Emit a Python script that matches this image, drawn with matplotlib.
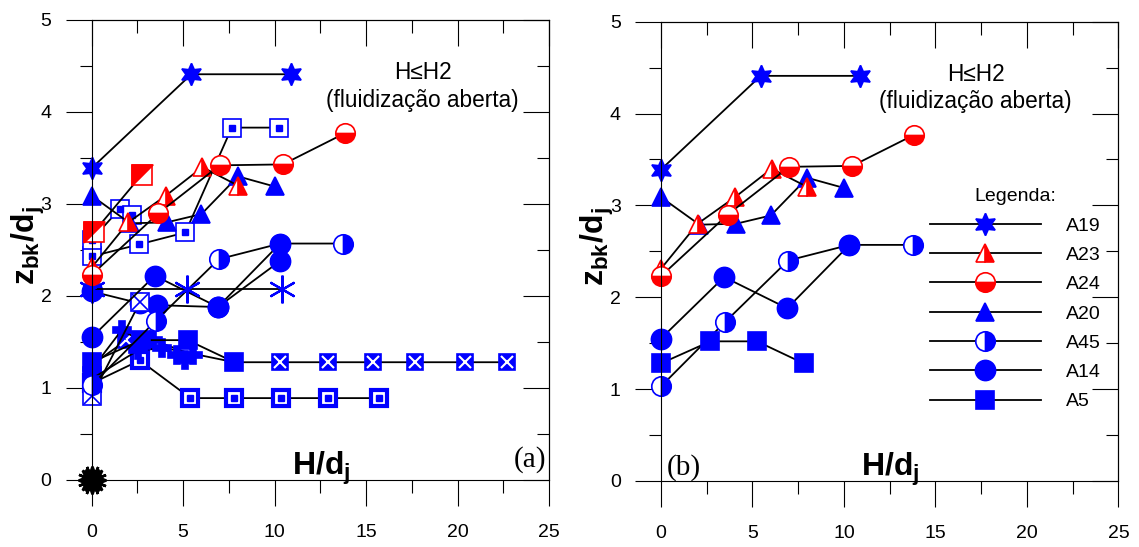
import matplotlib
matplotlib.use("Agg")
import matplotlib.pyplot as plt
from matplotlib.lines import Line2D
from matplotlib.path import Path
from matplotlib.ticker import MultipleLocator

plt.rcParams["font.family"] = ["Liberation Sans", "DejaVu Sans"]
plt.rcParams["mathtext.fontset"] = "custom"
plt.rcParams["mathtext.rm"] = "Liberation Sans"
plt.rcParams["mathtext.bf"] = "Liberation Sans:bold"
plt.rcParams["mathtext.it"] = "Liberation Sans:italic"

BLUE = "#0000ff"
RED = "#ff0000"

# --- series shared by both panels (H/dj, zbk/dj) ---
a19_x = [0.0, 5.45, 10.9]
a19_y = [3.39, 4.41, 4.41]
a20_x = [0.0, 2.1, 4.1, 6.0, 8.0, 10.0]
a20_y = [3.09, 2.79, 2.80, 2.89, 3.30, 3.19]
a23_x = [0.0, 2.0, 4.05, 6.05, 8.0]
a23_y = [2.31, 2.80, 3.09, 3.40, 3.20]
a24_x = [0.0, 3.65, 7.0, 10.45, 13.85]
a24_y = [2.23, 2.90, 3.42, 3.43, 3.77]
a45_x = [0.0, 3.5, 6.95, 10.3, 13.75]
a45_y = [1.03, 1.73, 2.40, 2.57, 2.57]
a14_x = [0.0, 3.45, 6.9, 10.3]
a14_y = [1.55, 2.22, 1.88, 2.57]
a5_x = [0.0, 2.7, 5.25, 7.8]
a5_y = [1.28, 1.52, 1.52, 1.28]

# --- extra tests shown only in panel (a) ---
s1_x = [0.1, 2.75]
s1_y = [2.69, 3.32]
s2_x = [0.0, 2.58, 5.12, 7.66, 10.26]
s2_y = [2.43, 2.56, 2.69, 3.83, 3.83]
s3_x = [0.0, 1.55, 2.2]
s3_y = [2.61, 2.95, 2.88]
s4_x = [0.0, 5.2, 10.4]
s4_y = [2.08, 2.08, 2.08]
s5_x = [0.0, 2.63]
s5_y = [0.91, 1.93]
s6_x = [0.0, 2.63, 3.55, 6.9, 10.3]
s6_y = [2.05, 1.92, 1.90, 1.88, 2.38]
s7_x = [0.0, 1.64, 2.82, 3.36, 5.54]
s7_y = [1.20, 1.63, 1.50, 1.52, 1.36]
s10_x = [0.0, 2.54, 3.82, 4.64, 5.09]
s10_y = [1.10, 1.41, 1.43, 1.36, 1.30]
s8_x = [0.0, 1.9, 7.8, 10.3, 12.9, 15.4, 17.7, 20.4, 22.7]
s8_y = [1.25, 1.52, 1.28, 1.28, 1.28, 1.28, 1.28, 1.28, 1.28]
s9_x = [0.0, 2.63, 5.4, 7.76, 10.34, 12.94, 15.72]
s9_y = [1.05, 1.30, 0.89, 0.89, 0.89, 0.89, 0.89]
s0_x = [0.0]
s0_y = [0.0]

legend_names = ["A19", "A23", "A24", "A20", "A45", "A14", "A5"]

UL_TRI = Path([(-0.5, -0.5), (-0.5, 0.5), (0.5, 0.5), (-0.5, -0.5)])

STYLES = {
    "A19": dict(marker=(6, 1, 0), ms=16, mfc=BLUE, mec=BLUE),
    "A20": dict(marker="^", ms=13, mfc=BLUE, mec=BLUE),
    "A23": dict(marker="^", ms=13, mfc=RED, mec=RED, fillstyle="right", mfcalt="white"),
    "A24": dict(marker="o", ms=14, mfc=RED, mec=RED, fillstyle="bottom", mfcalt="white"),
    "A45": dict(marker="o", ms=14, mfc=BLUE, mec=BLUE, fillstyle="right", mfcalt="white"),
    "A14": dict(marker="o", ms=14.5, mfc=BLUE, mec=BLUE),
    "A5": dict(marker="s", ms=12.5, mfc=BLUE, mec=BLUE),
}


def _kw(style):
    st = dict(style)
    if "mfcalt" in st:
        st["markerfacecoloralt"] = st.pop("mfcalt")
    st.setdefault("mew", 1.2)
    return st


def series(ax, x, y, style, overlay=None):
    ax.plot(x, y, color="black", lw=1.3, clip_on=False, **_kw(style))
    if overlay is not None:
        ax.plot(x, y, ls="none", clip_on=False, **overlay)


def frame(ax, note_x):
    ax.set_xlim(0, 25)
    ax.set_ylim(0, 5)
    for axis, major, minor in ((ax.xaxis, 5, 2.5), (ax.yaxis, 1, 0.5)):
        axis.set_major_locator(MultipleLocator(major))
        axis.set_minor_locator(MultipleLocator(minor))
    ax.tick_params(which="both", direction="out", width=0.8, labelsize=14,
                   top=False, right=False)
    ax.tick_params(which="major", length=19)
    ax.tick_params(which="minor", length=9)
    ax.tick_params(axis="x", pad=13)
    ax.tick_params(axis="y", pad=10)
    for spine in ax.spines.values():
        spine.set_linewidth(0.8)
    # inward ticks on the top and right edges
    top = ax.secondary_xaxis("top")
    right = ax.secondary_yaxis("right")
    for sec, major, minor in ((top, 5, 2.5), (right, 1, 0.5)):
        axis = sec.xaxis if sec is top else sec.yaxis
        axis.set_major_locator(MultipleLocator(major))
        axis.set_minor_locator(MultipleLocator(minor))
        sec.tick_params(which="both", direction="in", width=0.8,
                        labeltop=False, labelright=False)
        sec.tick_params(which="major", length=19)
        sec.tick_params(which="minor", length=9)
        for spine in sec.spines.values():
            spine.set_linewidth(0.8)
    ax.set_ylabel(r"$\mathbf{z_{bk}/d_j}$", fontsize=23)
    ax.yaxis.set_label_coords(-0.098, 0.51)
    ax.text(12.55, 0.06, r"$\mathbf{H/d_j}$", fontsize=23, ha="center", va="baseline")
    ax.text(note_x, 4.43, "H\u2264H2", fontsize=16.3, ha="center", va="center")
    ax.text(note_x, 4.13, "(fluidização aberta)", fontsize=16.3, ha="center", va="center")


fig = plt.figure(figsize=(11.39, 5.47), dpi=100)
ax_a = fig.add_axes([0.0805, 0.1225, 0.4015, 0.841])
ax_b = fig.add_axes([0.5803, 0.1207, 0.4017, 0.8397])

# panel (a): all tests
dot = dict(marker="s", ms=4, mfc=BLUE, mec=BLUE)
series(ax_a, s9_x, s9_y, dict(marker="s", ms=11, mfc="white", mec=BLUE, mew=3), dot)
series(ax_a, s8_x, s8_y, dict(marker="s", ms=11, mfc=BLUE, mec=BLUE),
       dict(marker="x", ms=8, mec="white", mew=1.5))
series(ax_a, s7_x, s7_y, dict(marker="P", ms=13, mfc=BLUE, mec=BLUE))
series(ax_a, s10_x, s10_y, dict(marker="P", ms=13, mfc=BLUE, mec=BLUE))
series(ax_a, s6_x, s6_y, dict(marker="o", ms=14.5, mfc=BLUE, mec=BLUE))
series(ax_a, s5_x, s5_y, dict(marker="s", ms=13, mfc="white", mec=BLUE),
       dict(marker="x", ms=12, mec=BLUE, mew=1.2))
series(ax_a, a5_x, a5_y, STYLES["A5"])
series(ax_a, a45_x, a45_y, STYLES["A45"])
series(ax_a, a14_x, a14_y, STYLES["A14"])
series(ax_a, s4_x, s4_y, dict(marker=(6, 2, 0), ms=20, mfc=BLUE, mec=BLUE, mew=1.6))
series(ax_a, s2_x, s2_y, dict(marker="s", ms=13, mfc="white", mec=BLUE), dot)
series(ax_a, s3_x, s3_y, dict(marker="s", ms=13, mfc="white", mec=BLUE), dot)
series(ax_a, a20_x, a20_y, STYLES["A20"])
series(ax_a, s1_x, s1_y, dict(marker="s", ms=15, mfc="white", mec=RED),
       dict(marker=UL_TRI, ms=15, mfc=RED, mec=RED, mew=1.2))
series(ax_a, a23_x, a23_y, STYLES["A23"])
series(ax_a, a24_x, a24_y, STYLES["A24"])
series(ax_a, a19_x, a19_y, STYLES["A19"])
# unlabelled black marks piled at the origin
for mk, size in [("o", 13), ((8, 1, 0), 20), ((6, 1, 30), 18), ((8, 2, 22), 21)]:
    ax_a.plot(s0_x, s0_y, ls="none", marker=mk, ms=size, mfc="black", mec="black",
              mew=1.8, clip_on=False)

# panel (b): selected tests with legend
panel_b = [
    ("A45", a45_x, a45_y), ("A14", a14_x, a14_y), ("A5", a5_x, a5_y),
    ("A20", a20_x, a20_y), ("A23", a23_x, a23_y), ("A24", a24_x, a24_y),
    ("A19", a19_x, a19_y),
]
for name, x, y in panel_b:
    series(ax_b, x, y, STYLES[name])

handles = [Line2D([], [], color="black", lw=1.3, **_kw(STYLES[n])) for n in legend_names]
ax_b.legend(handles, legend_names, title="Legenda:", loc="upper left",
            bbox_to_anchor=(0.588, 0.637), frameon=False, fontsize=14,
            title_fontsize=14, handlelength=5.7, handletextpad=1.3,
            labelspacing=0.6, borderpad=0, borderaxespad=0)

frame(ax_a, 18.1)
frame(ax_b, 17.2)
ax_a.text(0.995, 0.015, "(a)", transform=ax_a.transAxes, ha="right", va="bottom",
          fontsize=21, family="Liberation Serif")
ax_b.text(0.012, 0.0, "(b)", transform=ax_b.transAxes, ha="left", va="bottom",
          fontsize=21, family="Liberation Serif")

fig.savefig("out.png", dpi=100)
